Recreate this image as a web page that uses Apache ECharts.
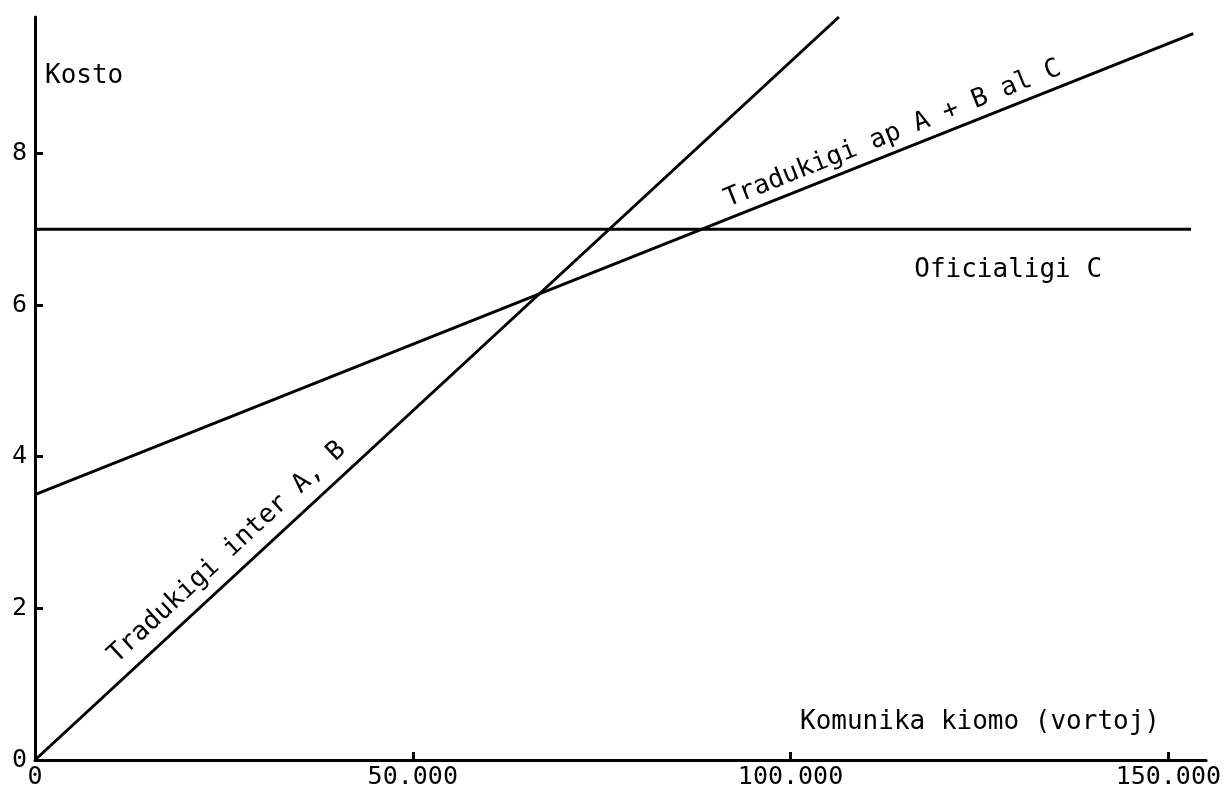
<!DOCTYPE html>
<html>
<head>
<meta charset="utf-8">
<script src="https://cdn.jsdelivr.net/npm/echarts@6/dist/echarts.min.js"></script>
<style>
  html, body { margin: 0; padding: 0; background: #fff; }
  #chart { width: 1224px; height: 790px; }
</style>
</head>
<body>
<div id="chart"></div>
<script>
// 刻度
const xTicks = [0, 50000, 100000, 150000]
const yTicks = [0, 2, 4, 6, 8]

// 三条成本线 (kiomo, kosto)
const interAB = [[0, 0], [106400, 9.8]]
const apABalC = [[0, 3.5], [153300, 9.58]]
const oficialigiC = [[0, 7], [153000, 7]]

const font = '"DejaVu Sans Mono", monospace'

const chart = echarts.init(document.getElementById('chart'))

const axisLine = { show: true, lineStyle: { color: '#000', width: 3 } }
const axisTick = { show: true, inside: true, length: 8, lineStyle: { color: '#000', width: 3 } }

const option = {
    animation: false,
    backgroundColor: '#fff',
    grid: { left: 35, right: 10, top: 17, bottom: 30 },
    xAxis: {
        type: 'value',
        min: 0,
        max: 155000,
        interval: 50000,
        splitLine: { show: false },
        axisLine: axisLine,
        axisTick: Object.assign({ customValues: xTicks }, axisTick),
        axisLabel: {
            customValues: xTicks,
            margin: 5,
            color: '#000',
            fontFamily: font,
            fontSize: 25,
            formatter: v => v === 0 ? '0' : (v / 1000) + '.000'
        }
    },
    yAxis: {
        type: 'value',
        min: 0,
        max: 9.8,
        interval: 2,
        splitLine: { show: false },
        axisLine: axisLine,
        axisTick: Object.assign({ customValues: yTicks }, axisTick),
        axisLabel: {
            customValues: yTicks,
            margin: 8,
            color: '#000',
            fontFamily: font,
            fontSize: 25
        }
    },
    series: [
        { name: 'Tradukigi inter A, B', type: 'line', data: interAB },
        { name: 'Tradukigi ap A + B al C', type: 'line', data: apABalC },
        { name: 'Oficialigi C', type: 'line', data: oficialigiC }
    ].map(s => Object.assign(s, {
        symbol: 'none',
        lineStyle: { color: '#000', width: 3 }
    }))
}

chart.setOption(option)

// 沿线文字: 位置由坐标轴换算
function lineLabel(text, pts, atX, offset) {
    const p0 = chart.convertToPixel({ gridIndex: 0 }, pts[0])
    const p1 = chart.convertToPixel({ gridIndex: 0 }, pts[1])
    const t = (atX - pts[0][0]) / (pts[1][0] - pts[0][0])
    const y = pts[0][1] + t * (pts[1][1] - pts[0][1])
    const p = chart.convertToPixel({ gridIndex: 0 }, [atX, y])
    const ang = Math.atan2(p0[1] - p1[1], p1[0] - p0[0])
    return {
        type: 'text',
        x: p[0] - Math.sin(ang) * offset,
        y: p[1] - Math.cos(ang) * offset,
        rotation: ang,
        style: { text: text, x: 0, y: 0, font: '26px ' + font, fill: '#000', align: 'center', verticalAlign: 'middle' }
    }
}

const ofPos = chart.convertToPixel({ gridIndex: 0 }, [128800, 7])

chart.setOption({
    graphic: [
        { type: 'text', x: 45, y: 76, style: { text: 'Kosto', font: '26px ' + font, fill: '#000', verticalAlign: 'middle' } },
        { type: 'text', x: 800, y: 722, style: { text: 'Komunika kiomo (vortoj)', font: '26px ' + font, fill: '#000', verticalAlign: 'middle' } },
        lineLabel('Tradukigi inter A, B', interAB, 27400, 22),
        lineLabel('Tradukigi ap A + B al C', apABalC, 114400, 18),
        { type: 'text', x: ofPos[0], y: ofPos[1] + 41, style: { text: 'Oficialigi C', font: '26px ' + font, fill: '#000', align: 'center', verticalAlign: 'middle' } }
    ]
})

window.addEventListener('resize', () => {
    chart.resize()
})
</script>
</body>
</html>
